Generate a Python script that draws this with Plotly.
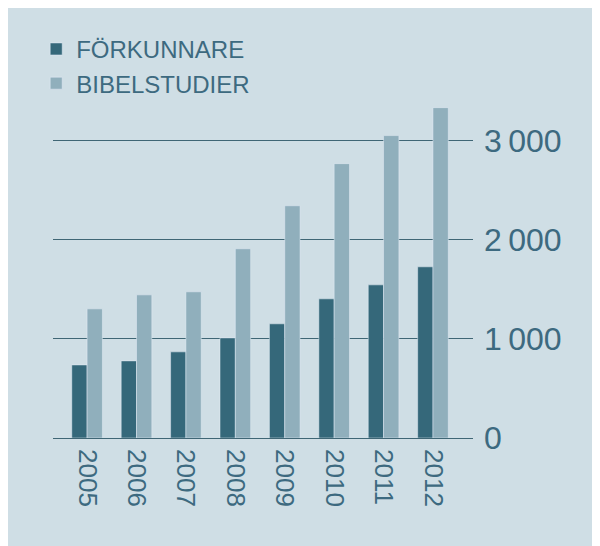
import plotly.graph_objects as go

years = ["2005","2006","2007","2008","2009","2010","2011","2012"]
forkunnare = [737, 778, 869, 1010, 1152, 1404, 1545, 1727]
bibelstudier = [1303, 1444, 1475, 1909, 2343, 2768, 3051, 3333]
tick_vals = [0, 1000, 2000, 3000]
tick_text = ["0", "1\u2009000", "2\u2009000", "3\u2009000"]

dark = "#35687a"
light = "#90afbc"
txt = "#3d6a80"
fig = go.Figure()
fig.add_bar(x=years, y=forkunnare, name="FÖRKUNNARE", marker_color=dark)
fig.add_bar(x=years, y=bibelstudier, name="BIBELSTUDIER", marker_color=light)
fig.update_layout(
    width=600, height=546, barmode="group", bargap=0.38, bargroupgap=0,
    paper_bgcolor="#cfdee5", plot_bgcolor="#cfdee5",
    margin=dict(l=45, r=135, t=93, b=116, pad=0, autoexpand=False),
    font=dict(family="Liberation Sans", color=txt),
    legend=dict(x=-0.04, y=1.22, xanchor="left", yanchor="top",
                font=dict(size=24, color=txt), bgcolor="rgba(0,0,0,0)",
                tracegroupgap=10, itemwidth=30),
    xaxis=dict(range=[-0.69, 7.81], tickangle=90, tickfont=dict(size=26, color=txt),
               showgrid=False, showline=False, ticks="", automargin=False,
               ticklabelstandoff=10),
    yaxis=dict(range=[0, 3400], side="right", tickvals=tick_vals, ticktext=tick_text,
               tickfont=dict(size=32, color=txt), gridcolor="#3f6675", gridwidth=1,
               zeroline=True, zerolinecolor="#3f6675", zerolinewidth=1, ticks="",
               automargin=False, ticklabelstandoff=10),
)
fig.write_html("out.html")
